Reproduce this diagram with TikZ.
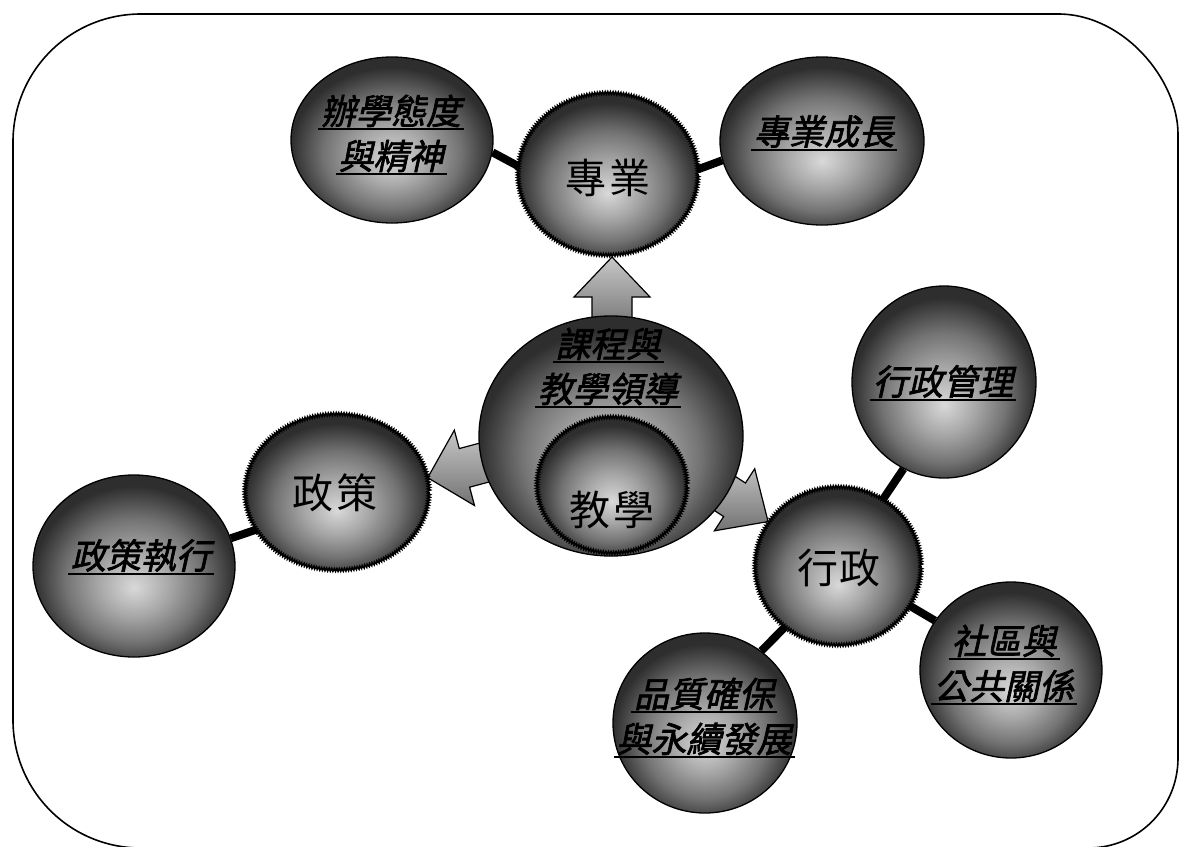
\documentclass[tikz,border=0pt]{standalone}
\usepackage{fontspec}
\newfontfamily\cjk{Noto Sans CJK TC}
\newfontfamily\cjkbi[FakeSlant=0.22,FakeBold=2]{Noto Sans CJK TC}
\usetikzlibrary{shapes.geometric,decorations.pathmorphing}
\pgfdeclarelayer{paper}
\pgfdeclarelayer{bg}
\pgfsetlayers{paper,bg,main}
\pgfdeclareradialshading{ballshade}{\pgfpoint{0bp}{-6bp}}{color(0bp)=(black!15); color(9bp)=(black!35); color(17bp)=(black!55); color(22bp)=(black!72); color(25bp)=(black!82); color(50bp)=(black!82)}
\newcommand\uln[1]{\leavevmode\setbox0=\hbox{#1}\rlap{\hspace{-3pt}\raisebox{-6pt}{\rule{\dimexpr\wd0+6pt\relax}{2.2pt}}}\box0}
\begin{document}
\begin{tikzpicture}[x=1pt,y=-1pt,
  orb/.style={ellipse, inner sep=0pt, draw=black, line width=1.3pt, shade, shading=ballshade},
  zorb/.style={ellipse, inner sep=0pt, shade, shading=ballshade,
    postaction={draw=black, line width=1.5pt, decorate, decoration={zigzag, segment length=2.6pt, amplitude=1.5pt}}},
  conn/.style={line width=8pt, black},
  blk/.style={draw=black, line width=1.2pt, top color=black!22, bottom color=black!55},
  lab/.style={font=\cjkbi\fontsize{35pt}{45pt}\selectfont, align=center, inner sep=0pt},
  big/.style={font=\cjk\fontsize{41pt}{44pt}\selectfont, inner sep=0pt}]
\useasboundingbox (0,0) rectangle (1180,846);
\begin{pgfonlayer}{paper}
\fill[white] (0,0) rectangle (1180,846);
\end{pgfonlayer}
% outer frame
\draw[line width=1.6pt] (13,420) -- (13,142) .. controls (13,71) and (70,14) .. (141,14)
  -- (1058,14) .. controls (1124,14) and (1178,80) .. (1178,134)
  -- (1178,758) .. controls (1178,808) and (1138,848) .. (1088,848)
  -- (141,848) .. controls (70,848) and (13,791) .. (13,720) -- cycle;
% circles
\node[orb, minimum width=202pt, minimum height=166pt] (attitude) at (392,140) {};
\node[zorb, minimum width=180pt, minimum height=162pt] (prof) at (608,174) {};
\node[orb, minimum width=204pt, minimum height=168pt] (growth) at (822,141) {};
\node[orb, minimum width=264pt, minimum height=240pt] (core) at (611,436) {};
\node[zorb, minimum width=150pt, minimum height=136pt] (teach) at (612,485) {};
\node[zorb, minimum width=184pt, minimum height=156pt] (policy) at (337,492) {};
\node[orb, minimum width=202pt, minimum height=182pt] (exec) at (134,566) {};
\node[zorb, minimum width=166pt, minimum height=158pt] (admin) at (838,566) {};
\node[orb, minimum width=184pt, minimum height=192pt] (mgmt) at (944,382) {};
\node[orb, minimum width=182pt, minimum height=176pt] (comm) at (1011,670) {};
\node[orb, minimum width=184pt, minimum height=180pt] (qual) at (705,723) {};
\begin{pgfonlayer}{bg}
% block arrows from the core
\begin{scope}[shift={(612,330)}, rotate=90]
  \path[blk] (0,-20) -- (33,-20) -- (33,-38) -- (73,0) -- (33,38) -- (33,20) -- (0,20) -- cycle;
\end{scope}
\begin{scope}[shift={(505,457)}, rotate=195]
  \path[blk] (0,-20) -- (42,-20) -- (42,-39) -- (80,0) -- (42,39) -- (42,20) -- (0,20) -- cycle;
\end{scope}
\begin{scope}[shift={(701,478)}, rotate=-33]
  \path[blk] (0,-20) -- (40,-20) -- (40,-37) -- (80,0) -- (40,37) -- (40,20) -- (0,20) -- cycle;
\end{scope}
% connectors
\draw[conn] (attitude.-7) -- (prof.175);
\draw[conn] (prof.3) -- (growth.-169);
\draw[conn] (exec.16) -- (policy.-155);
\draw[conn] (admin.56) -- (mgmt.-115);
\draw[conn] (admin.-29) -- (comm.147);
\draw[conn] (admin.-131) -- (qual.52);
\end{pgfonlayer}
% texts
\node[lab] (tAtt) at (391,135) {\uln{辦學態度}\\\uln{與精神}};
\node[big] (tProf) at (608,178) {專\hspace{4pt}業};
\node[lab] (tGrowth) at (824,133) {\uln{專業成長}};
\node[lab] (tCore) at (608,368) {\uln{課程與}\\\uln{教學領導}};
\node[big] (tTeach) at (612,510) {教\hspace{4pt}學};
\node[big] (tPolicy) at (335,493) {政\hspace{4pt}策};
\node[lab] (tExec) at (141,557) {\uln{政策執行}};
\node[big] (tAdmin) at (839,568) {行\hspace{2pt}政};
\node[lab] (tMgmt) at (943,383) {\uln{行政管理}};
\node[lab] (tComm) at (1004,665) {\uln{社區與}\\\uln{公共關係}};
\node[lab] (tQual) at (704,718) {\uln{品質確保}\\\uln{與永續發展}};
\end{tikzpicture}
\end{document}
